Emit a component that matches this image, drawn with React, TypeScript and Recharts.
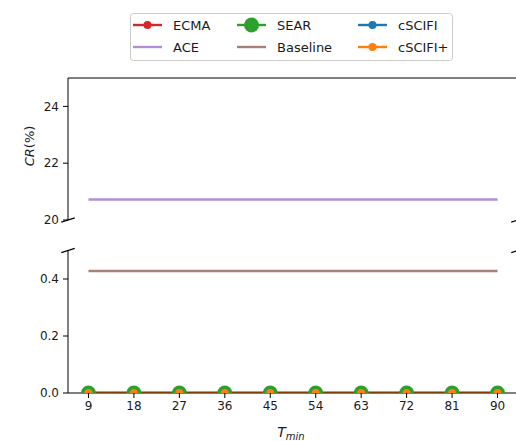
import { Line, LineChart, XAxis, YAxis } from 'recharts';

const tMin = [9, 18, 27, 36, 45, 54, 63, 72, 81, 90];
const ecma = [0, 0, 0, 0, 0, 0, 0, 0, 0, 0];
const sear = [0, 0, 0, 0, 0, 0, 0, 0, 0, 0];
const cscifi = [0, 0, 0, 0, 0, 0, 0, 0, 0, 0];
const cscifiPlus = [0, 0, 0, 0, 0, 0, 0, 0, 0, 0];
const ace = [20.72, 20.72, 20.72, 20.72, 20.72, 20.72, 20.72, 20.72, 20.72, 20.72];
const baseline = [0.428, 0.428, 0.428, 0.428, 0.428, 0.428, 0.428, 0.428, 0.428, 0.428];

const topTicks = [20, 22, 24];
const bottomTicks = [0, 0.2, 0.4];

const data = tMin.map((t, i) => ({
  t,
  ecma: ecma[i],
  ace: ace[i],
  sear: sear[i],
  baseline: baseline[i],
  cscifi: cscifi[i],
  cscifiPlus: cscifiPlus[i],
}));

// plotting order = legend order (column-first, 3 columns)
const series = [
  { key: 'ecma', name: 'ECMA', color: '#d62728', r: 4, panel: 'bottom' },
  { key: 'ace', name: 'ACE', color: '#b08fd6', r: 0, panel: 'top' },
  { key: 'sear', name: 'SEAR', color: '#2ca02c', r: 7.5, panel: 'bottom' },
  { key: 'baseline', name: 'Baseline', color: '#a98079', r: 0, panel: 'bottom' },
  { key: 'cscifi', name: 'cSCIFI', color: '#1f77b4', r: 4, panel: 'bottom' },
  { key: 'cscifiPlus', name: 'cSCIFI+', color: '#ff7f0e', r: 4, panel: 'bottom' },
];

const FONT = '"DejaVu Sans", sans-serif';
const tickStyle = { fontSize: 12, fill: '#1a1a1a', fontFamily: FONT };
const xDomain = [4.95, 94.05];

function renderLines(panel: string) {
  return series
    .filter((s) => s.panel === panel)
    .map((s) => (
      <Line
        key={s.key}
        dataKey={s.key}
        name={s.name}
        stroke={s.color}
        strokeWidth={2.4}
        dot={s.r ? { r: s.r, fill: s.color, stroke: s.color, strokeWidth: 0 } : false}
        isAnimationActive={false}
      />
    ));
}

function BreakMark({ x, y }: { x: number; y: number }) {
  return <line x1={x - 6.75} y1={y + 2.1} x2={x + 6.75} y2={y - 2.1} stroke="#000" strokeWidth={1.2} />;
}

function Overlay() {
  const colX = [133, 237, 358];
  const rowY = [25, 47];
  return (
    <svg width={530} height={441} style={{ position: 'absolute', left: 0, top: 0 }}>
      <BreakMark x={68} y={220} />
      <BreakMark x={68} y={250.5} />
      <BreakMark x={518} y={220} />
      <BreakMark x={518} y={250.5} />

      <rect x={130.5} y={13.5} width={322} height={47} rx={3} fill="#fff" fillOpacity={0.8} stroke="#cccccc" />
      {series.map((s, i) => {
        const x = colX[Math.floor(i / 2)];
        const y = rowY[i % 2];
        return (
          <g key={s.key}>
            <line x1={x} y1={y} x2={x + 29} y2={y} stroke={s.color} strokeWidth={2.4} />
            {s.r > 0 && <circle cx={x + 14.5} cy={y} r={s.r} fill={s.color} />}
            <text x={x + 40} y={y} dominantBaseline="central" fontSize={13} fontFamily={FONT} fill="#1a1a1a">
              {s.name}
            </text>
          </g>
        );
      })}

      <text
        x={29}
        y={146}
        transform="rotate(-90 29 146)"
        textAnchor="middle"
        dominantBaseline="central"
        fontSize={13}
        fontFamily={FONT}
        fill="#1a1a1a"
      >
        <tspan fontStyle="italic">CR</tspan>(%)
      </text>
      <text x={291} y={437} textAnchor="middle" fontFamily={FONT} fill="#1a1a1a">
        <tspan fontStyle="italic" fontSize={14}>T</tspan>
        <tspan fontStyle="italic" fontSize={10} dy={3}>min</tspan>
      </text>
    </svg>
  );
}

export default function App() {
  return (
    <div style={{ position: 'absolute', left: 0, top: 0, width: 516, height: 441, overflow: 'hidden', background: '#fff' }}>
      <div style={{ position: 'absolute', left: 0, top: 0 }}>
        <LineChart width={530} height={441} data={data} margin={{ top: 250.5, right: 12, bottom: 18, left: 0 }}>
          <XAxis
            dataKey="t"
            type="number"
            domain={xDomain}
            ticks={tMin}
            height={30}
            tickSize={5}
            tickMargin={3}
            tick={tickStyle}
            axisLine={{ stroke: '#000' }}
            tickLine={{ stroke: '#000' }}
            allowDataOverflow
          />
          <YAxis
            type="number"
            domain={[0, 0.5]}
            ticks={bottomTicks}
            width={68}
            tickSize={5}
            tickMargin={4}
            tick={tickStyle}
            tickFormatter={(v: number) => v.toFixed(1)}
            axisLine={{ stroke: '#000' }}
            tickLine={{ stroke: '#000' }}
            allowDataOverflow
          />
          {renderLines('bottom')}
        </LineChart>
      </div>
      <div style={{ position: 'absolute', left: 0, top: 0 }}>
        <LineChart width={530} height={235} data={data} margin={{ top: 77, right: 12, bottom: 15, left: 0 }}>
          <XAxis
            dataKey="t"
            type="number"
            orientation="top"
            domain={xDomain}
            ticks={tMin}
            height={1}
            tickSize={5}
            tick={false}
            axisLine={{ stroke: '#000' }}
            tickLine={{ stroke: '#000' }}
            allowDataOverflow
          />
          <YAxis
            type="number"
            domain={[20, 25]}
            ticks={topTicks}
            width={68}
            tickSize={5}
            tickMargin={4}
            tick={tickStyle}
            axisLine={{ stroke: '#000' }}
            tickLine={{ stroke: '#000' }}
            allowDataOverflow
          />
          {renderLines('top')}
        </LineChart>
      </div>
      <Overlay />
    </div>
  );
}
